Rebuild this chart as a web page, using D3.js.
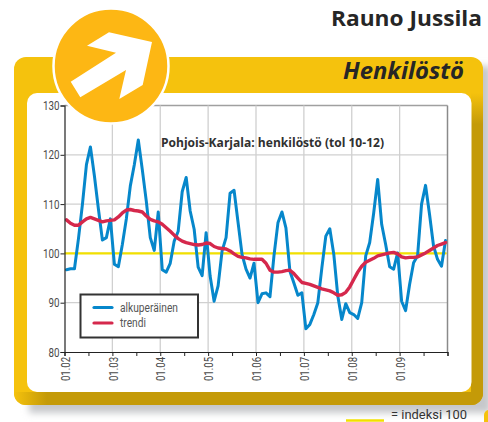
<!DOCTYPE html>
<html><head><meta charset="utf-8">
<script src="https://cdnjs.cloudflare.com/ajax/libs/d3/7.8.5/d3.min.js"></script>
<style>html,body{margin:0;padding:0;background:#fff;overflow:hidden}svg{display:block}</style>
</head><body><svg id="c" width="488" height="422"></svg>
<script>
const alkuperainen=[96.7,96.9,96.9,103,110,118,121.6,115.7,109,102.7,103.2,107,97.8,97.3,101.8,107,113.7,118,123,117,110.6,103.2,100.6,108.4,
96.7,96.2,98,102.5,104.5,112.5,115.4,108.6,104.9,97.2,95.5,104.2,95.4,90.3,93.4,100.5,103.2,112.2,112.8,106.3,99.8,96.8,95,98,
90,91.8,92,91.2,99.5,106.2,108.4,105.2,96.4,94,91.5,92,84.7,85.6,87.6,90,97,103.5,105,99.8,91.4,86.6,89.8,88,
87.6,86.8,90,99.5,102.2,108.2,115,105.9,101.8,97.3,96.8,100.1,90.3,88.4,93.7,98.1,99.5,110,113.8,107.9,101.5,98.8,97.4,102.6];
const trendi=[106.8,106.1,105.7,105.7,106.4,107,107.3,107,106.7,106.4,106.6,106.7,106.8,107.4,108.2,108.8,108.9,108.7,108.6,108.4,107.6,106.9,106.6,106.4,
105.9,105.2,104.5,103.7,103,102.5,102.2,102,101.8,101.7,101.8,102.1,102,101.4,101.1,101,100.9,100.5,99.9,99.4,99.2,99.1,98.9,98.8,
98.8,98.8,98,96.6,96.2,96.2,96.3,96.5,96.6,95.9,95,94.1,93.9,93.7,93.4,93.1,92.8,92.6,92.4,92,91.5,91.6,92.1,93.2,
94.7,96.2,97.4,98.2,98.6,99,99.5,99.7,99.9,100.1,100.2,99.9,99.3,99.1,99.2,99.2,99.3,99.7,100.1,100.6,101.1,101.6,101.9,102.2];
const yearLabels=["01.02","01.03","01.04","01.05","01.06","01.07","01.08","01.09"];
const yTicks=[80,90,100,110,120,130];
const legendLabels=["alkuperäinen","trendi"];
const legendWidths=[58,26];
const indexValue=100;
const monthsPerYear=12;

const GOLD="#f5c20d",DARK="#c49a08",ORANGE="#fdb714",BLUE="#0687cb",RED="#d5284c",LINE="#f2e000",GRID="#d0d0d0",TXT="#4a4a4a";
const SMALL="Roboto,'Open Sans',sans-serif";
const HEAD="'Open Sans','Noto Sans',sans-serif";
const svg=d3.select("#c");
const defs=svg.append("defs");
defs.append("filter").attr("id","blur").attr("x","-10%").attr("y","-10%").attr("width","120%").attr("height","120%")
  .append("feGaussianBlur").attr("stdDeviation",3.5);
const gv=defs.append("linearGradient").attr("id","gv").attr("x1",0).attr("x2",0).attr("y1",0).attr("y2",1);
gv.append("stop").attr("offset",0).attr("stop-color",GOLD);
gv.append("stop").attr("offset",0.1).attr("stop-color",DARK);
const gh=defs.append("linearGradient").attr("id","gh").attr("x1",0).attr("x2",1).attr("y1",0).attr("y2",0);
gh.append("stop").attr("offset",0).attr("stop-color",GOLD);
gh.append("stop").attr("offset",0.07).attr("stop-color",DARK);
defs.append("clipPath").attr("id","frameClip").append("rect").attr("x",14).attr("y",57).attr("width",469).attr("height",348).attr("rx",12);

// frame and shadow
svg.append("rect").attr("x",29).attr("y",66).attr("width",462).attr("height",347).attr("fill","#c6c8cb").attr("filter","url(#blur)");
svg.append("rect").attr("x",14).attr("y",57).attr("width",469).attr("height",348).attr("rx",12).attr("fill",GOLD);
const cl=svg.append("g").attr("clip-path","url(#frameClip)");
cl.append("rect").attr("x",471).attr("y",93).attr("width",12).attr("height",312).attr("fill","url(#gv)");
cl.append("rect").attr("x",14).attr("y",392).attr("width",469).attr("height",13).attr("fill","url(#gh)");
svg.append("rect").attr("x",27).attr("y",93).attr("width",444.5).attr("height",299).attr("rx",10).attr("fill","#fff");
svg.append("rect").attr("x",484).attr("y",410).attr("width",20).attr("height",30).attr("rx",5).attr("fill",GOLD);

svg.append("text").text("Rauno Jussila").attr("x",482).attr("y",26).attr("text-anchor","end")
  .attr("font-family",HEAD).attr("font-weight",700).attr("font-size",21.5).attr("fill","#262626").attr("textLength",151).attr("lengthAdjust","spacingAndGlyphs");
svg.append("text").text("Henkilöstö").attr("x",464).attr("y",79).attr("text-anchor","end")
  .attr("font-family",HEAD).attr("font-weight",700).attr("font-style","italic").attr("font-size",22.5).attr("fill","#262626").attr("textLength",121).attr("lengthAdjust","spacingAndGlyphs");

// plot
const L=64.5,R=447.5,T=105.5,B=352;
const n=yearLabels.length*monthsPerYear;
const x=d3.scaleLinear().domain([0,n]).range([L,R]);
const y=d3.scaleLinear().domain([80,130]).range([B,T]);
const g=svg.append("g");

g.selectAll(".gy").data(yTicks.slice(1)).join("line").attr("x1",L).attr("x2",R).attr("y1",d=>y(d)).attr("y2",d=>y(d))
  .attr("stroke",d=>d===130?"#a0a0a0":GRID).attr("stroke-width",1.3);
g.selectAll(".gx").data(yearLabels.slice(1).map((d,i)=>(i+1)*monthsPerYear)).join("line").attr("x1",d=>x(d)).attr("x2",d=>x(d)).attr("y1",T).attr("y2",B)
  .attr("stroke",GRID).attr("stroke-width",1.3);
g.append("line").attr("x1",R).attr("x2",R).attr("y1",T).attr("y2",B).attr("stroke","#8a8a8a").attr("stroke-width",1.5);
g.append("line").attr("x1",L).attr("x2",R-1).attr("y1",y(indexValue)).attr("y2",y(indexValue)).attr("stroke",LINE).attr("stroke-width",2.4);

const lineGen=d3.line().x((d,i)=>x(i+0.5)).y(d=>y(d)).curve(d3.curveLinear);
g.append("path").attr("d",lineGen(alkuperainen)).attr("fill","none").attr("stroke",BLUE).attr("stroke-width",3).attr("stroke-linejoin","round").attr("stroke-linecap","round");
g.append("path").attr("d",lineGen(trendi)).attr("fill","none").attr("stroke",RED).attr("stroke-width",3.4).attr("stroke-linejoin","round").attr("stroke-linecap","round");

const ax=g.append("g").attr("transform",`translate(0,${B})`).call(
  d3.axisBottom(x).tickValues(d3.range(0,n+1,monthsPerYear/2)).tickSize(4).tickFormat(d=>d%monthsPerYear===0&&d<n?yearLabels[d/monthsPerYear]:""));
ax.select(".domain").attr("stroke","#222").attr("stroke-width",1.2);
ax.selectAll(".tick line").attr("stroke","#222").attr("stroke-width",1);
ax.selectAll("text").filter(d=>d%monthsPerYear===0&&d<n).attr("transform","rotate(-90)").attr("x",-5).attr("y",0).attr("dy","0.36em").attr("text-anchor","end")
  .attr("font-family",SMALL).attr("font-size",13).attr("fill",TXT).attr("textLength",24).attr("lengthAdjust","spacingAndGlyphs");

const ay=g.append("g").attr("transform",`translate(${L},0)`).call(d3.axisLeft(y).tickValues(yTicks).tickSize(4).tickFormat(d3.format("d")));
ay.select(".domain").attr("stroke","#222").attr("stroke-width",1.2);
ay.selectAll(".tick line").attr("stroke","#222").attr("stroke-width",1);
ay.selectAll("text").attr("x",-5).attr("font-family",SMALL).attr("font-size",13).attr("fill",TXT).attr("textLength",d=>d>=100?16.5:11).attr("lengthAdjust","spacingAndGlyphs");

svg.append("text").text("Pohjois-Karjala: henkilöstö (tol 10-12)").attr("x",161).attr("y",146.5).attr("font-family",HEAD).attr("font-weight",700)
  .attr("font-size",13).attr("fill","#303030").attr("textLength",223).attr("lengthAdjust","spacingAndGlyphs");

// legend
svg.append("rect").attr("x",80.5).attr("y",294.5).attr("width",117.5).attr("height",43).attr("fill","#fff").attr("stroke","#333").attr("stroke-width",2);
const lg=svg.selectAll(".lg").data(legendLabels).join("g").attr("transform",(d,i)=>`translate(0,${307.5+i*15.5})`);
lg.append("line").attr("x1",94).attr("x2",112).attr("stroke",(d,i)=>i?RED:BLUE).attr("stroke-width",3.2).attr("stroke-linecap","round");
lg.append("text").text(d=>d).attr("x",120).attr("dy","0.35em").attr("font-family",SMALL).attr("font-size",12).attr("fill","#555")
  .attr("textLength",(d,i)=>legendWidths[i]).attr("lengthAdjust","spacingAndGlyphs");

// badge
svg.append("circle").attr("cx",111).attr("cy",66).attr("r",57.5).attr("fill",ORANGE).attr("stroke","#fff").attr("stroke-width",2.5);
const arrow=[[109,32.3],[152,42],[142.7,85],[119.3,99],[126,70],[80.3,97.3],[70.7,81.7],[116,52.7],[87,45.7]];
svg.append("path").attr("d",d3.line()(arrow)+"Z").attr("fill","#fff");

// index key
svg.append("line").attr("x1",346).attr("x2",384).attr("y1",420.5).attr("y2",420.5).attr("stroke",LINE).attr("stroke-width",2.4);
svg.append("text").text("= indeksi 100").attr("x",391).attr("y",418.5).attr("font-family",SMALL).attr("font-size",13.5).attr("fill","#333").attr("textLength",76).attr("lengthAdjust","spacingAndGlyphs");
</script></body></html>
